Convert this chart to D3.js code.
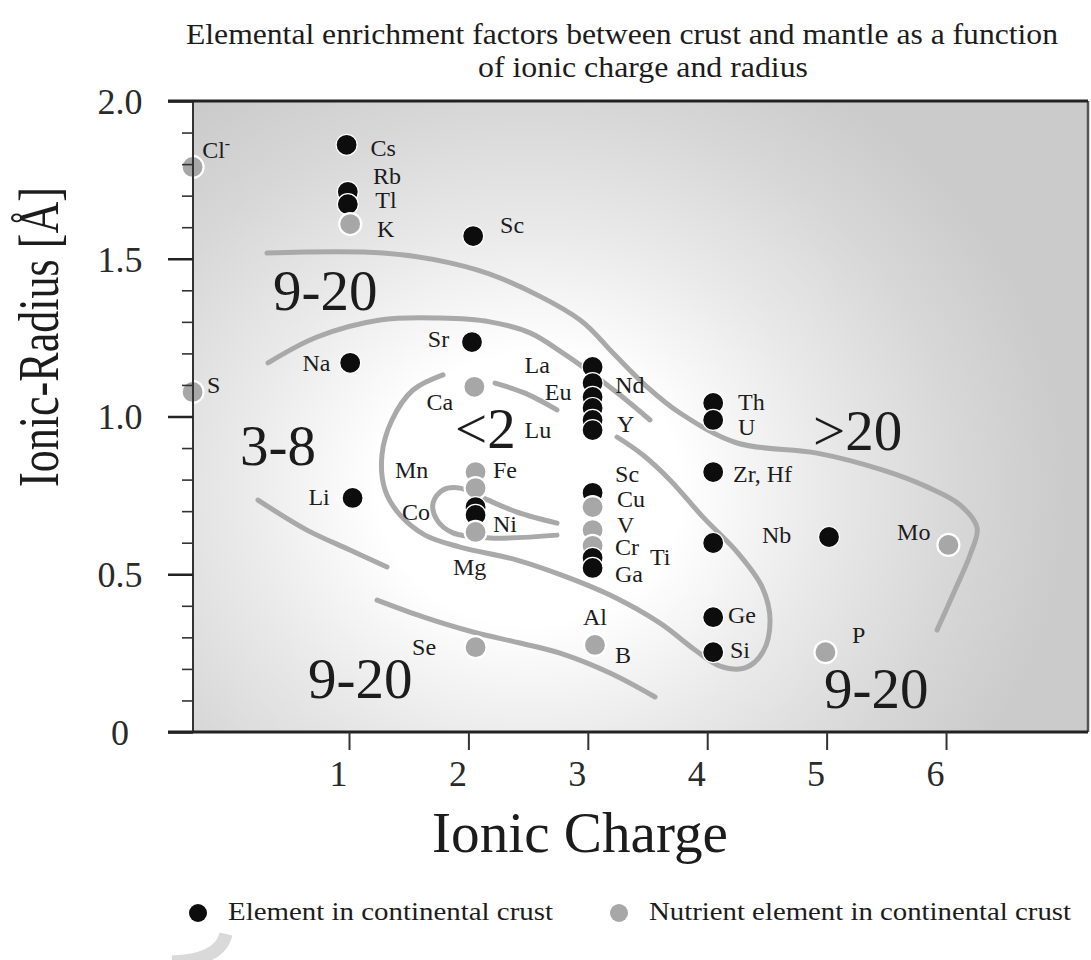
<!DOCTYPE html>
<meta charset="utf-8">
<style>
  body {
    margin: 0;
    background: #fff;
  }

  text {
    font-family: "Liberation Serif", "Times New Roman", serif;
    fill: #1c1c1c;
  }

  .title { font-size: 29px; }
  .axisTitle { font-size: 58px; }
  .tickLabel { font-size: 36px; fill: #2a2a2a; }
  .elem { font-size: 24px; }
  .zone { font-size: 57px; }
  .legendText { font-size: 26px; }

  .contour {
    fill: none;
    stroke: #a9a9a9;
    stroke-width: 5;
    stroke-linecap: round;
    stroke-linejoin: round;
  }
</style>

<body>
  <script src="https://d3js.org/d3.v7.min.js"></script>
  <script>

    // ---- data (ionic charge, ionic radius in Å) ----

    // black dots: elements in continental crust
    var crustElements = [
      { name: "Cs", charge: 0.98, radius: 1.861 },
      { name: "Rb", charge: 0.99, radius: 1.712 },
      { name: "Tl", charge: 0.99, radius: 1.673 },
      { name: "Na", charge: 1.01, radius: 1.170 },
      { name: "Li", charge: 1.03, radius: 0.742 },
      { name: "Sc", charge: 2.04, radius: 1.572 },
      { name: "Sr", charge: 2.03, radius: 1.236 },
      { name: "Co", charge: 2.06, radius: 0.713 },
      { name: "Ni", charge: 2.06, radius: 0.688 },
      { name: "La", charge: 3.04, radius: 1.157 },
      { name: "Nd", charge: 3.04, radius: 1.106 },
      { name: "Eu", charge: 3.04, radius: 1.062 },
      { name: "Gd", charge: 3.04, radius: 1.027 },
      { name: "Lu", charge: 3.04, radius: 0.989 },
      { name: "Y", charge: 3.04, radius: 0.957 },
      { name: "Sc", charge: 3.04, radius: 0.758 },
      { name: "Ti", charge: 3.04, radius: 0.552 },
      { name: "Ga", charge: 3.04, radius: 0.520 },
      { name: "Th", charge: 4.05, radius: 1.043 },
      { name: "U", charge: 4.05, radius: 0.989 },
      { name: "Zr, Hf", charge: 4.05, radius: 0.824 },
      { name: "Ti4", charge: 4.05, radius: 0.599 },
      { name: "Ge", charge: 4.05, radius: 0.364 },
      { name: "Si", charge: 4.05, radius: 0.253 },
      { name: "Nb", charge: 5.02, radius: 0.618 }
    ];

    // grey dots: nutrient elements in continental crust
    var nutrientElements = [
      { name: "Cl", charge: -0.31, radius: 1.791 },
      { name: "S", charge: -0.31, radius: 1.078 },
      { name: "K", charge: 1.01, radius: 1.610 },
      { name: "Ca", charge: 2.05, radius: 1.094 },
      { name: "Mn", charge: 2.06, radius: 0.824 },
      { name: "Fe", charge: 2.06, radius: 0.773 },
      { name: "Mg", charge: 2.06, radius: 0.634 },
      { name: "Se", charge: 2.06, radius: 0.269 },
      { name: "Cu", charge: 3.04, radius: 0.713 },
      { name: "V", charge: 3.04, radius: 0.640 },
      { name: "Cr", charge: 3.04, radius: 0.590 },
      { name: "B", charge: 3.06, radius: 0.276 },
      { name: "P", charge: 4.99, radius: 0.253 },
      { name: "Mo", charge: 6.02, radius: 0.593 }
    ];

    // element labels, placed in data units (left edge, baseline)
    var elementLabels = [
      { text: "Cl", sup: "-", charge: -0.23, radius: 1.819 },
      { text: "Cs", charge: 1.18, radius: 1.826 },
      { text: "Rb", charge: 1.20, radius: 1.737 },
      { text: "Tl", charge: 1.22, radius: 1.661 },
      { text: "K", charge: 1.235, radius: 1.569 },
      { text: "Sc", charge: 2.265, radius: 1.582 },
      { text: "Sr", charge: 1.66, radius: 1.220 },
      { text: "Na", charge: 0.61, radius: 1.144 },
      { text: "Ca", charge: 1.65, radius: 1.021 },
      { text: "La", charge: 2.47, radius: 1.138 },
      { text: "Nd", charge: 3.23, radius: 1.074 },
      { text: "Eu", charge: 2.64, radius: 1.052 },
      { text: "Lu", charge: 2.47, radius: 0.932 },
      { text: "Y", charge: 3.245, radius: 0.951 },
      { text: "Mn", charge: 1.385, radius: 0.805 },
      { text: "Fe", charge: 2.206, radius: 0.805 },
      { text: "Li", charge: 0.66, radius: 0.719 },
      { text: "Co", charge: 1.444, radius: 0.672 },
      { text: "Ni", charge: 2.206, radius: 0.634 },
      { text: "Mg", charge: 1.87, radius: 0.498 },
      { text: "Sc", charge: 3.228, radius: 0.792 },
      { text: "Cu", charge: 3.245, radius: 0.713 },
      { text: "V", charge: 3.245, radius: 0.631 },
      { text: "Cr", charge: 3.228, radius: 0.561 },
      { text: "Ti", charge: 3.52, radius: 0.529 },
      { text: "Ga", charge: 3.228, radius: 0.475 },
      { text: "Al", charge: 2.96, radius: 0.339 },
      { text: "B", charge: 3.228, radius: 0.219 },
      { text: "Se", charge: 1.528, radius: 0.244 },
      { text: "Th", charge: 4.258, radius: 1.021 },
      { text: "U", charge: 4.258, radius: 0.941 },
      { text: "Zr, Hf", charge: 4.216, radius: 0.792 },
      { text: "Nb", charge: 4.459, radius: 0.599 },
      { text: "Ge", charge: 4.174, radius: 0.345 },
      { text: "Si", charge: 4.191, radius: 0.235 },
      { text: "P", charge: 5.213, radius: 0.282 },
      { text: "Mo", charge: 5.59, radius: 0.609 },
      { text: "S", charge: -0.19, radius: 1.074 }
    ];

    // enrichment factor zones
    var zoneLabels = [
      { text: "9-20", charge: 0.363, radius: 1.338 },
      { text: "3-8", charge: 0.087, radius: 0.846 },
      { text: "<2", charge: 1.888, radius: 0.900 },
      { text: ">20", charge: 4.886, radius: 0.894 },
      { text: "9-20", charge: 0.657, radius: 0.108 },
      { text: "9-20", charge: 4.978, radius: 0.076 }
    ];

    // contour lines between zones, [charge, radius]
    var contourOuter = [[0.313, 1.518], [1.285, 1.518], [1.846, 1.487], [2.265, 1.439], [2.935, 1.306],
      [3.211, 1.201], [3.496, 1.094], [3.772, 1.011], [4.250, 0.916], [4.920, 0.884], [5.472, 0.830],
      [5.841, 0.777], [6.117, 0.720], [6.260, 0.647], [6.201, 0.561], [6.075, 0.450], [5.925, 0.323]];
    var contourUpper = [[0.322, 1.170], [0.732, 1.252], [1.260, 1.306], [1.762, 1.312], [2.181, 1.300],
      [2.516, 1.265], [2.792, 1.201], [3.018, 1.141], [3.270, 1.068], [3.521, 0.989]];
    var contourInner = [[1.787, 1.132], [1.536, 1.084], [1.360, 0.989], [1.276, 0.878], [1.302, 0.767],
      [1.427, 0.688], [1.637, 0.624], [1.930, 0.586], [2.407, 0.545], [2.826, 0.491], [3.186, 0.434],
      [3.605, 0.345], [3.898, 0.260], [4.107, 0.209], [4.317, 0.203], [4.467, 0.254], [4.526, 0.355],
      [4.459, 0.460], [4.258, 0.567], [3.965, 0.681], [3.688, 0.799], [3.462, 0.878], [3.245, 0.935]];
    var contourCa = [[2.223, 1.106], [2.474, 1.074], [2.742, 1.021]];
    var contourCo = [[2.742, 0.662], [2.407, 0.697], [2.122, 0.742], [1.930, 0.773], [1.787, 0.767],
      [1.704, 0.726], [1.737, 0.672], [1.871, 0.631], [2.181, 0.615], [2.742, 0.624]];
    var contourLi = [[0.238, 0.735], [0.648, 0.640], [1.008, 0.577], [1.318, 0.523]];
    var contourLower = [[1.235, 0.418], [1.620, 0.365], [2.039, 0.317], [2.432, 0.282], [2.767, 0.250],
      [3.186, 0.187], [3.563, 0.111]];

    var xTicks = [1, 2, 3, 4, 5, 6];
    var yMajorTicks = [0, 0.5, 1.0, 1.5, 2.0];
    var yMinorTicks = [0.1, 0.2, 0.3, 0.4, 0.6, 0.7, 0.8, 0.9, 1.1, 1.2, 1.3, 1.4, 1.6, 1.7, 1.8, 1.9];

    var legendItems = [
      { label: "Element in continental crust", kind: "crust" },
      { label: "Nutrient element in continental crust", kind: "nutrient" }
    ];

    // ---- layout ----
    var width = 1091, height = 960;
    var plot = { left: 193, right: 1088, top: 101, bottom: 732 };
    var colors = { crust: "#0d0d0d", nutrient: "#a7a7a7" };

    var x = d3.scaleLinear()
      .domain([-0.3065, 7.189])
      .range([plot.left, plot.right]);
    var y = d3.scaleLinear()
      .domain([0, 2])
      .range([plot.bottom, plot.top]);

    var svg = d3.select("body").append("svg")
      .attr("width", width)
      .attr("height", height);

    // background glow of the plot area
    var defs = svg.append("defs");
    var grad = defs.append("radialGradient")
      .attr("id", "glow")
      .attr("gradientUnits", "userSpaceOnUse")
      .attr("cx", 530).attr("cy", 490).attr("r", 480)
      .attr("gradientTransform", "translate(530,490) scale(1.12,1) translate(-530,-490)");
    grad.append("stop").attr("offset", "0").attr("stop-color", "#ffffff");
    grad.append("stop").attr("offset", "0.28").attr("stop-color", "#ffffff");
    grad.append("stop").attr("offset", "0.55").attr("stop-color", "#e9e9e9");
    grad.append("stop").attr("offset", "0.8").attr("stop-color", "#d7d7d7");
    grad.append("stop").attr("offset", "1").attr("stop-color", "#cbcbcb");

    svg.append("rect")
      .attr("x", plot.left)
      .attr("y", plot.top)
      .attr("width", plot.right - plot.left)
      .attr("height", plot.bottom - plot.top)
      .attr("fill", "url(#glow)");

    // title
    svg.append("text")
      .attr("class", "title")
      .attr("x", 186).attr("y", 44)
      .attr("textLength", 872)
      .attr("lengthAdjust", "spacingAndGlyphs")
      .text("Elemental enrichment factors between crust and mantle as a function");
    svg.append("text")
      .attr("class", "title")
      .attr("x", 478).attr("y", 77)
      .attr("textLength", 330)
      .attr("lengthAdjust", "spacingAndGlyphs")
      .text("of ionic charge and radius");

    // contour lines
    var line = d3.line()
      .x(function (d) { return x(d[0]); })
      .y(function (d) { return y(d[1]); })
      .curve(d3.curveCatmullRom.alpha(0.5));

    var contours = [contourOuter, contourUpper, contourInner, contourCa, contourCo, contourLi, contourLower];
    svg.append("g").selectAll("path")
      .data(contours)
      .enter().append("path")
      .attr("class", "contour")
      .attr("d", line);

    // zone labels
    svg.append("g").selectAll("text")
      .data(zoneLabels)
      .enter().append("text")
      .attr("class", "zone")
      .attr("x", function (d) { return x(d.charge); })
      .attr("y", function (d) { return y(d.radius); })
      .text(function (d) { return d.text; });

    // dots, drawn from the largest radius down so the lower ones overlap
    var allDots = crustElements.map(function (d) { return Object.assign({ kind: "crust" }, d); })
      .concat(nutrientElements.map(function (d) { return Object.assign({ kind: "nutrient" }, d); }));
    allDots.sort(function (a, b) { return b.radius - a.radius; });

    svg.append("g").selectAll("circle")
      .data(allDots)
      .enter().append("circle")
      .attr("cx", function (d) { return x(d.charge); })
      .attr("cy", function (d) { return y(d.radius); })
      .attr("r", function (d) { return d.kind == "crust" ? 10.5 : 11; })
      .attr("fill", function (d) { return colors[d.kind]; })
      .attr("stroke", "#ffffff")
      .attr("stroke-width", function (d) { return d.kind == "crust" ? 1.2 : 2.2; });

    // element labels
    var lbl = svg.append("g").selectAll("text")
      .data(elementLabels)
      .enter().append("text")
      .attr("class", "elem")
      .attr("x", function (d) { return x(d.charge); })
      .attr("y", function (d) { return y(d.radius); })
      .text(function (d) { return d.text; });
    lbl.filter(function (d) { return d.sup; })
      .append("tspan")
      .attr("dy", -9)
      .attr("font-size", 16)
      .text(function (d) { return d.sup; });

    // frame
    svg.append("line")
      .attr("x1", plot.left).attr("x2", plot.left)
      .attr("y1", plot.top).attr("y2", plot.bottom)
      .attr("stroke", "#333").attr("stroke-width", 2);
    svg.append("line")
      .attr("x1", plot.right).attr("x2", plot.right)
      .attr("y1", plot.top).attr("y2", plot.bottom)
      .attr("stroke", "#555").attr("stroke-width", 2.5);
    svg.append("line")
      .attr("x1", 168).attr("x2", plot.right)
      .attr("y1", plot.top).attr("y2", plot.top)
      .attr("stroke", "#222").attr("stroke-width", 3);
    svg.append("line")
      .attr("x1", 168).attr("x2", plot.right)
      .attr("y1", plot.bottom).attr("y2", plot.bottom)
      .attr("stroke", "#222").attr("stroke-width", 3);

    // y axis: minor ticks
    var yMinor = svg.append("g")
      .attr("transform", "translate(" + plot.left + ",0)")
      .call(d3.axisLeft(y).tickValues(yMinorTicks).tickSize(11).tickFormat(""));
    yMinor.select(".domain").remove();
    yMinor.selectAll("line").attr("stroke", "#333").attr("stroke-width", 1.6);

    // y axis: major ticks and labels
    var yMajor = svg.append("g")
      .attr("transform", "translate(" + plot.left + ",0)")
      .call(d3.axisLeft(y).tickValues(yMajorTicks).tickSize(25)
        .tickFormat(function (d) { return d == 0 ? "0" : d3.format(".1f")(d); }));
    yMajor.select(".domain").remove();
    yMajor.selectAll("line").attr("stroke", "#222").attr("stroke-width", 2.5);
    yMajor.selectAll("text")
      .attr("class", "tickLabel")
      .attr("font-size", null)
      .attr("font-family", null)
      .attr("fill", null)
      .attr("text-anchor", "middle")
      .attr("x", 120 - plot.left)
      .attr("dy", "0.34em");

    // x axis
    var xAxis = svg.append("g")
      .attr("transform", "translate(0," + plot.bottom + ")")
      .call(d3.axisBottom(x).tickValues(xTicks).tickSize(18).tickPadding(10));
    xAxis.select(".domain").remove();
    xAxis.selectAll("line").attr("stroke", "#333").attr("stroke-width", 2);
    xAxis.selectAll("text")
      .attr("class", "tickLabel")
      .attr("font-size", null)
      .attr("font-family", null)
      .attr("fill", null)
      .attr("x", -11);

    // axis titles
    svg.append("text")
      .attr("class", "axisTitle")
      .attr("x", 432).attr("y", 852)
      .attr("textLength", 296)
      .attr("lengthAdjust", "spacingAndGlyphs")
      .text("Ionic Charge");

    svg.append("text")
      .attr("class", "axisTitle")
      .attr("transform", "translate(58,487) rotate(-90)")
      .attr("textLength", 300)
      .attr("lengthAdjust", "spacingAndGlyphs")
      .text("Ionic-Radius [Å]");

    // legend
    var legendX = [198, 619];
    var legendW = [325, 422];
    var legend = svg.append("g").selectAll("g")
      .data(legendItems)
      .enter().append("g")
      .attr("transform", function (d, i) { return "translate(" + legendX[i] + ",913)"; });
    legend.append("circle")
      .attr("r", 9)
      .attr("fill", function (d) { return colors[d.kind]; });
    legend.append("text")
      .attr("class", "legendText")
      .attr("x", 30).attr("y", 7)
      .attr("textLength", function (d, i) { return legendW[i]; })
      .attr("lengthAdjust", "spacingAndGlyphs")
      .text(function (d) { return d.label; });

    // faint watermark stroke at the bottom left
    svg.append("path")
      .attr("d", "M226,934 C222,952 202,961 172,962")
      .attr("fill", "none")
      .attr("stroke", "#d9d9d9")
      .attr("stroke-width", 13);

  </script>
</body>
